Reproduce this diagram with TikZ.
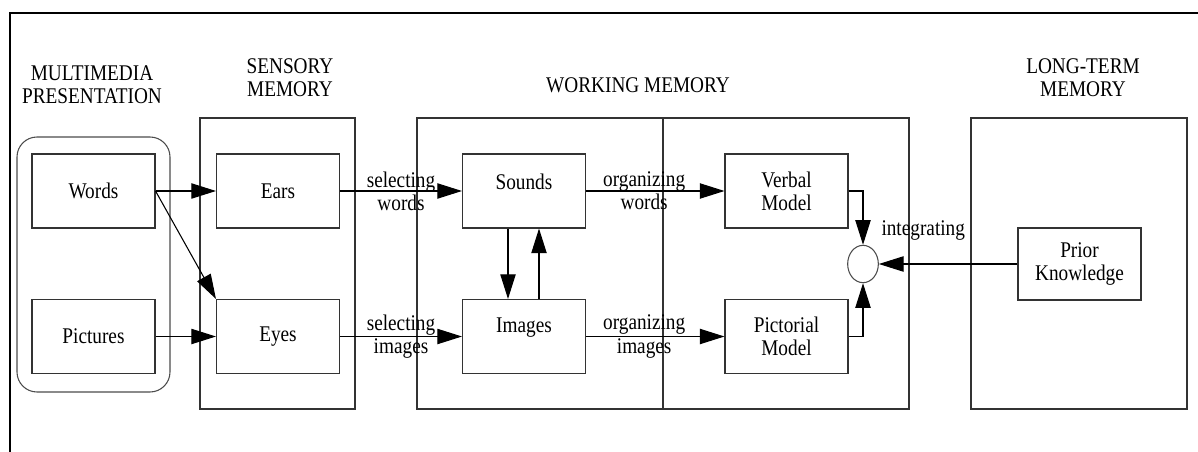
\documentclass[tikz,border=0pt]{standalone}
\usepackage{fontspec}
\setmainfont{Liberation Serif}[FakeStretch=0.86]
\usetikzlibrary{arrows.meta,shapes.geometric,calc}
\begin{document}
\begin{tikzpicture}[x=0.75pt,y=-0.75pt,
  font=\fontsize{16.8}{17.25}\selectfont,
  box/.style={draw=black!80,line width=0.8pt,minimum width=92.25pt,minimum height=55.5pt,inner sep=0pt,align=center},
  region/.style={draw=black!80,line width=0.8pt},
  arr/.style={line width=0.8pt,-{Triangle[length=18.5pt,width=11.5pt]}},
  lbl/.style={align=center,inner sep=0pt},
]
\useasboundingbox (0,0) rectangle (1198,452);
\draw[line width=1.6pt] (10,470) -- (10,13) -- (1220,13);

% region titles
\node[lbl] (tmm) at (92,85) {MULTIMEDIA\\PRESENTATION};
\node[lbl] (tsm) at (290,78) {SENSORY\\MEMORY};
\node[lbl] (twm) at (638,85) {WORKING MEMORY};
\node[lbl] (tlm) at (1083,78) {LONG-TERM\\MEMORY};

% regions
\draw[region,draw=black!70,rounded corners=15pt] (17,137) rectangle (170,392);
\draw[region] (200,118) rectangle (355,409);
\draw[region] (417,118) rectangle (909,409);
\draw[region] (663,118) -- (663,409);
\draw[region] (971,118) rectangle (1187,409);

% boxes
\node[box] (words) at (93.5,191) {Words};
\node[box] (pics) at (93.5,336.5) {Pictures};
\node[box] (ears) at (278,191) {Ears};
\node[box] (eyes) at (278,336.5) {Eyes};
\node[box,label={[shift={(0,6.5pt)}]center:Sounds}] (sounds) at (524,191) {};
\node[box,label={[shift={(0,6.5pt)}]center:Images}] (images) at (524,336.5) {};
\node[box] (verbal) at (786.5,191) {Verbal\\Model};
\node[box] (pict) at (786.5,336.5) {Pictorial\\Model};
\node[box,minimum height=54pt] (pk) at (1079.5,264) {Prior\\Knowledge};
\node[draw=black!70,line width=0.8pt,ellipse,minimum width=23pt,minimum height=28pt,inner sep=0pt] (circ) at (863,264) {};

\coordinate (d1) at (508,0);
\coordinate (d2) at (539,0);

% connectors
\draw[arr] (words.east) -- (ears.west);
\draw[arr] (words.east) -- (eyes.north west);
\draw[arr] (pics.east) -- (eyes.west);
\draw[arr] (ears.east) -- node[lbl,pos=0.5] {selecting\\words} (sounds.west);
\draw[arr] (eyes.east) -- node[lbl,pos=0.5] {selecting\\images} (images.west);
\draw[arr] (sounds.east) -- node[lbl,pos=0.42] {organizing\\words} (verbal.west);
\draw[arr] (images.east) -- node[lbl,pos=0.42] {organizing\\images} (pict.west);
\draw[arr] (sounds.south -| d1) -- (images.north -| d1);
\draw[arr] (images.north -| d2) -- (sounds.south -| d2);
\draw[arr] (verbal.east) -| (circ.north);
\draw[arr] (pict.east) -| (circ.south);
\draw[arr] (pk.west) -- node[lbl,pos=0.68,above=17pt] {integrating} (circ.east);
\end{tikzpicture}
\end{document}
